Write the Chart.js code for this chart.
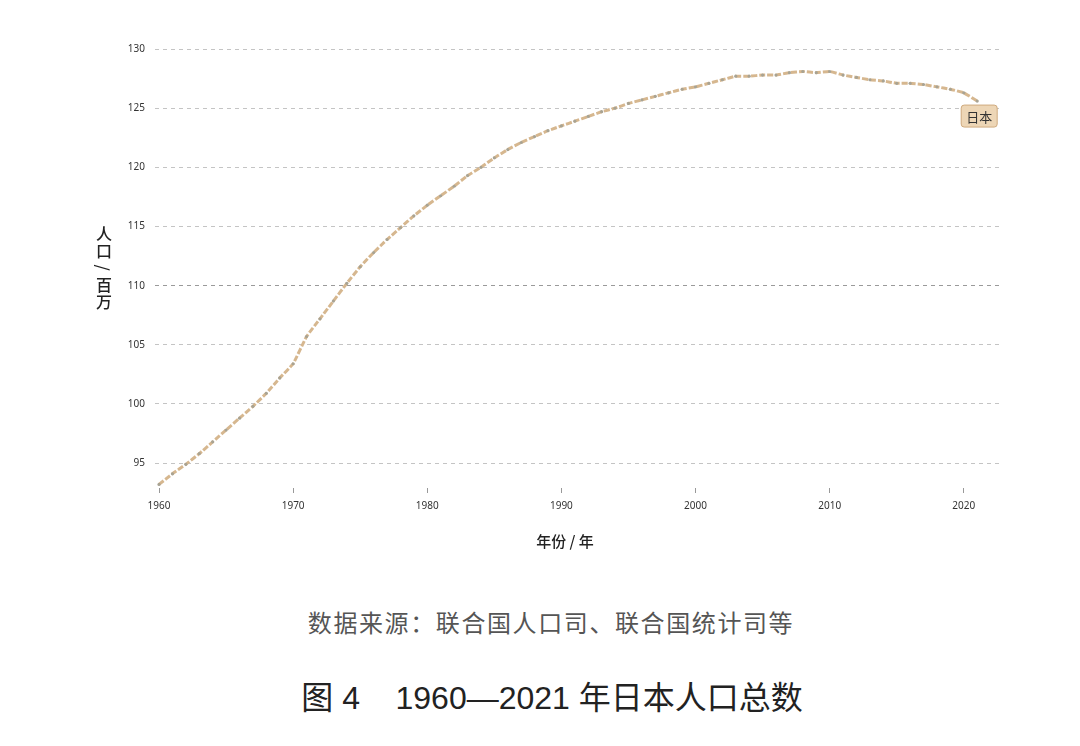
<!DOCTYPE html>
<html>
<head>
<meta charset="utf-8">
<script src="https://cdn.jsdelivr.net/npm/chart.js@4"></script>
<style>
    body { margin: 0; background: #fff; width: 1080px; height: 746px; position: relative; overflow: hidden; }
    #wrap { position: absolute; left: 0; top: 0; width: 1080px; height: 570px; }
    .ytitle { position: absolute; left: 92px; top: 226px; writing-mode: vertical-rl; text-orientation: mixed;
        font-family: "Noto Sans CJK SC"; font-size: 16px; font-weight: 500; color: #222; letter-spacing: 1px; }
    .xtitle { position: absolute; left: 465px; width: 200px; top: 530px; text-align: center;
        font-family: "Noto Sans CJK SC"; font-size: 15px; font-weight: 500; color: #222; }
    .source { position: absolute; left: 0; width: 1102px; top: 604px; text-align: center;
        font-family: "Noto Sans CJK SC"; font-size: 24px; letter-spacing: 1.6px; color: #555; }
    .caption { position: absolute; left: 0; width: 1104px; top: 672px; text-align: center;
        font-family: "Liberation Sans", "Noto Sans CJK SC"; font-size: 32px; font-weight: 400; color: #222; }
</style>
</head>
<body>
<div id="wrap"><canvas id="popChart" width="1080" height="570"></canvas></div>
<div class="ytitle">人口 / 百万</div>
<div class="xtitle">年份 / 年</div>
<div class="source">数据来源：联合国人口司、联合国统计司等</div>
<div class="caption">图 4&nbsp;&nbsp;&nbsp;&nbsp;1960—2021 年日本人口总数</div>
<script>
// years and population (millions)
var years = [
    1960, 1961, 1962, 1963, 1964, 1965, 1966, 1967, 1968, 1969,
    1970, 1971, 1972, 1973, 1974, 1975, 1976, 1977, 1978, 1979,
    1980, 1981, 1982, 1983, 1984, 1985, 1986, 1987, 1988, 1989,
    1990, 1991, 1992, 1993, 1994, 1995, 1996, 1997, 1998, 1999,
    2000, 2001, 2002, 2003, 2004, 2005, 2006, 2007, 2008, 2009,
    2010, 2011, 2012, 2013, 2014, 2015, 2016, 2017, 2018, 2019,
    2020, 2021
];
var population = [
    93.2, 94.1, 94.9, 95.8, 96.8, 97.8, 98.8, 99.8, 100.9, 102.2,
    103.4, 105.7, 107.2, 108.7, 110.2, 111.6, 112.8, 113.9, 114.9, 115.9,
    116.8, 117.6, 118.4, 119.3, 120.0, 120.8, 121.5, 122.1, 122.6, 123.1,
    123.5, 123.9, 124.3, 124.7, 125.0, 125.4, 125.7, 126.0, 126.3, 126.6,
    126.8, 127.1, 127.4, 127.7, 127.7, 127.8, 127.8, 128.0, 128.1, 128.0,
    128.1, 127.8, 127.6, 127.4, 127.3, 127.1, 127.1, 127.0, 126.8, 126.6,
    126.3, 125.6
];
var xTicks = [1960, 1970, 1980, 1990, 2000, 2010, 2020];
var yTicks = [95, 100, 105, 110, 115, 120, 125, 130];
var seriesName = '日本';

var points = years.map(function (y, i) { return { x: y, y: population[i] }; });

// small tag under the last point
var endLabel = {
    id: 'endLabel',
    afterDatasetsDraw: function (chart) {
        var meta = chart.getDatasetMeta(0);
        var last = meta.data[meta.data.length - 1];
        var ctx = chart.ctx;
        ctx.save();
        ctx.font = '13px "Noto Sans CJK SC"';
        var w = ctx.measureText(seriesName).width + 10;
        var h = 22;
        var cx = last.x + 2, cy = last.y + 15;
        ctx.beginPath();
        ctx.roundRect(cx - w / 2, cy - h / 2, w, h, 3);
        ctx.fillStyle = '#edd6b6';
        ctx.fill();
        ctx.lineWidth = 1;
        ctx.strokeStyle = '#cfaa7e';
        ctx.stroke();
        ctx.fillStyle = '#333';
        ctx.textAlign = 'center';
        ctx.textBaseline = 'middle';
        ctx.fillText(seriesName, cx, cy + 1);
        ctx.restore();
    }
};

var ctx = document.getElementById('popChart').getContext('2d');
var chart = new Chart(ctx, {
    type: 'line',
    data: {
        datasets: [{
            label: seriesName,
            data: points,
            borderColor: '#d6b78f',
            borderWidth: 3,
            borderDash: [6, 2],
            pointRadius: 1.6,
            pointBackgroundColor: '#a8a393',
            pointBorderWidth: 0,
            tension: 0.1,
            fill: false
        }]
    },
    options: {
        responsive: false,
        animation: false,
        layout: { padding: { left: 0, right: 80, top: 49, bottom: 0 } },
        plugins: {
            legend: { display: false },
            tooltip: { enabled: false }
        },
        scales: {
            x: {
                type: 'linear',
                min: 1959.7,
                max: 2022.7,
                afterBuildTicks: function (scale) {
                    scale.ticks = xTicks.map(function (v) { return { value: v }; });
                },
                afterFit: function (scale) { scale.height = 82; },
                border: { display: false },
                grid: { drawOnChartArea: false, drawTicks: true, tickLength: 5, color: '#999' },
                ticks: {
                    padding: 7,
                    color: '#333',
                    font: { family: 'Noto Sans', size: 10 },
                    callback: function (v) { return String(v); }
                }
            },
            y: {
                min: 92.9,
                max: 130,
                afterBuildTicks: function (scale) {
                    scale.ticks = yTicks.map(function (v) { return { value: v }; });
                },
                afterFit: function (scale) { scale.width = 155; },
                border: { display: false, dash: [4, 4] },
                grid: {
                    drawTicks: false,
                    color: function (c) { return c.tick && c.tick.value === 110 ? '#9a9a9a' : '#c4c4c4'; },
                    lineWidth: 1
                },
                ticks: {
                    padding: 10,
                    color: '#333',
                    font: { family: 'Noto Sans', size: 10 }
                }
            }
        }
    },
    plugins: [endLabel]
});
</script>
</body>
</html>
